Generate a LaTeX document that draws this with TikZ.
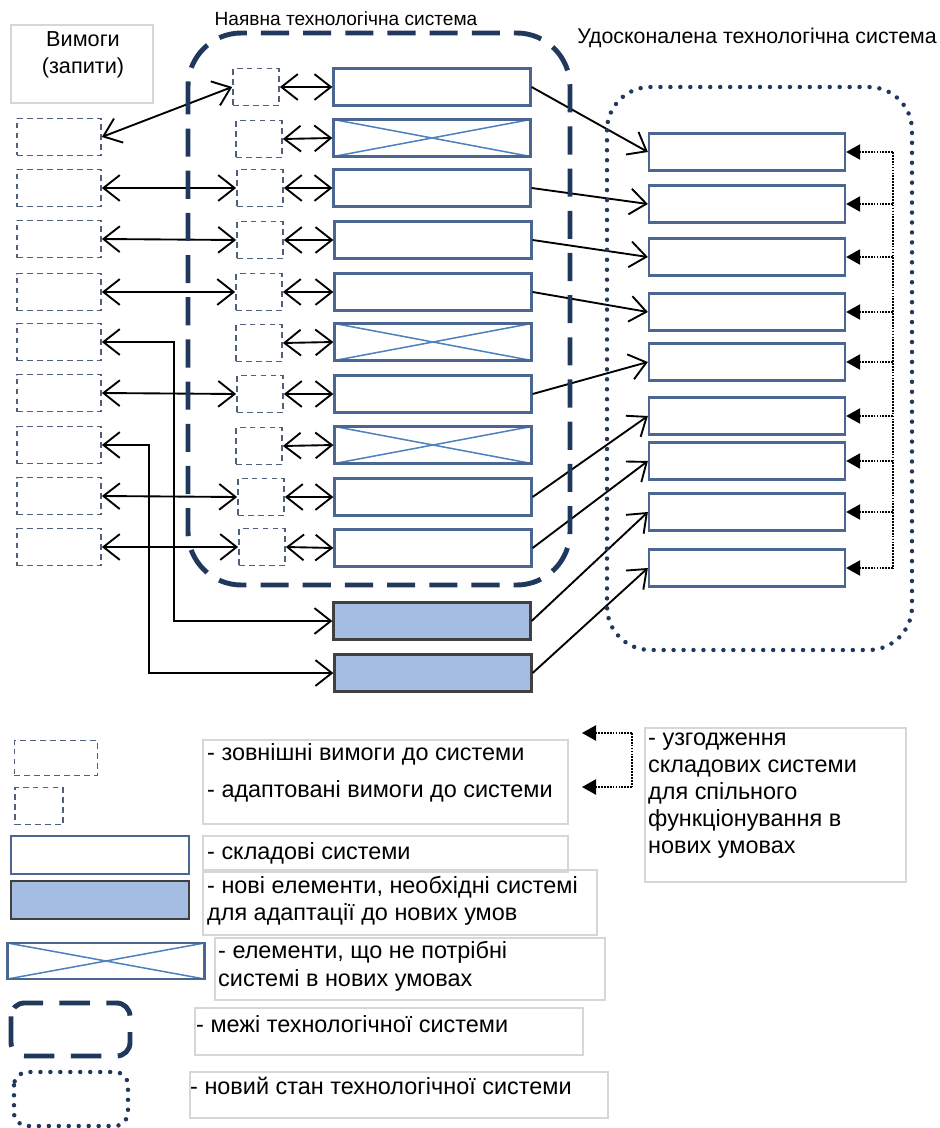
\documentclass[tikz,border=0pt]{standalone}
\usepackage{fontspec}
\setmainfont{Liberation Sans}
\usetikzlibrary{arrows.meta}

\definecolor{framecol}{RGB}{31,56,92}
\definecolor{boxcol}{RGB}{74,102,145}
\definecolor{crosscol}{RGB}{79,129,189}
\definecolor{reqcol}{RGB}{80,96,122}
\definecolor{newfill}{RGB}{165,189,226}
\definecolor{legcol}{RGB}{215,215,215}

\tikzset{
  req/.style={draw=reqcol, line width=1.5pt, dash pattern=on 5pt off 3.5pt,
    minimum width=2.52cm, minimum height=1.11cm, inner sep=0pt},
  adapt/.style={req, minimum width=1.38cm},
  comp/.style={draw=boxcol, line width=1.9pt, minimum width=5.91cm,
    minimum height=1.11cm, inner sep=0pt},
  crossed/.style={comp, path picture={
    \draw[crosscol, line width=1.3pt]
      (path picture bounding box.north west) -- (path picture bounding box.south east)
      (path picture bounding box.south west) -- (path picture bounding box.north east);}},
  newel/.style={comp, draw=black!75, fill=newfill},
  tgt/.style={comp, minimum width=5.88cm},
  link/.style={line width=1.6pt, -{Straight Barb[length=14pt,width=22pt]}},
  dlink/.style={line width=1.6pt,
    {Straight Barb[length=14pt,width=22pt]}-{Straight Barb[length=14pt,width=22pt]}},
  sync/.style={densely dotted, line width=1.5pt},
  syncarr/.style={sync, -{Triangle[length=12pt,width=13pt]}},
  oldsys/.style={draw=framecol, line width=4.2pt, dash pattern=on 24pt off 12pt,
    rounded corners=1.6cm},
  newsys/.style={draw=framecol, line width=3.8pt, dash pattern=on 0pt off 8.5pt,
    line cap=round, rounded corners=1.3cm},
  legbox/.style={draw=legcol, line width=1pt},
  legtxt/.style={anchor=west, inner sep=0pt, font=\fontsize{20pt}{23pt}\selectfont},
}

\begin{document}
\begin{tikzpicture}[x=0.03cm, y=-0.03cm, font=\fontsize{16.3pt}{23pt}\selectfont]
    \useasboundingbox (0,0) rectangle (939,1128);

    % headings
    \draw[legbox] (11,25) rectangle (153,103);
    \node[align=center, font=\fontsize{18.5pt}{23pt}\selectfont] (reqhdr) at (83,55) {Вимоги\\(запити)};
    \node (oldhdr) at (346,19) {Наявна технологічна система};
    \node[font=\fontsize{18.2pt}{23pt}\selectfont] (newhdr) at (757,38) {Удосконалена технологічна система};

    % external requirements
    \node[req] (r1) at (59,137) {};
    \node[req] (r2) at (59,188) {};
    \node[req] (r3) at (59,239) {};
    \node[req] (r4) at (59,292) {};
    \node[req] (r5) at (59,342) {};
    \node[req] (r6) at (59,393) {};
    \node[req] (r7) at (59,445) {};
    \node[req] (r8) at (59,496) {};
    \node[req] (r9) at (59,547) {};

    % adapted requirements
    \node[adapt] (a0) at (256,87) {};
    \node[adapt] (a1) at (259,139) {};
    \node[adapt] (a2) at (260,188) {};
    \node[adapt] (a3) at (260,240) {};
    \node[adapt] (a4) at (259,292) {};
    \node[adapt] (a5) at (259,343) {};
    \node[adapt] (a6) at (260,394) {};
    \node[adapt] (a7) at (259,446) {};
    \node[adapt] (a8) at (261,497) {};
    \node[adapt] (a9) at (262,547) {};

    % components of the existing system
    \node[comp] (c0) at (432,87) {};
    \node[crossed] (c1) at (432,138) {};
    \node[comp] (c2) at (432,188) {};
    \node[comp] (c3) at (433,240) {};
    \node[comp] (c4) at (433,292) {};
    \node[crossed] (c5) at (433,342) {};
    \node[comp] (c6) at (433,394) {};
    \node[crossed] (c7) at (433,445) {};
    \node[comp] (c8) at (433,497) {};
    \node[comp] (c9) at (433,548) {};
    \node[newel] (n1) at (432,621) {};
    \node[newel] (n2) at (433,673) {};

    % components of the improved system
    \node[tgt] (t1) at (747,152) {};
    \node[tgt] (t2) at (747,204) {};
    \node[tgt] (t3) at (747,257) {};
    \node[tgt] (t4) at (747,312) {};
    \node[tgt] (t5) at (747,362) {};
    \node[tgt] (t6) at (747,416) {};
    \node[tgt] (t7) at (747,461) {};
    \node[tgt] (t8) at (747,512) {};
    \node[tgt] (t9) at (747,568) {};

    % requirements -> adapted requirements
    \draw[dlink] (r1.east) -- (a0.west);
    \draw[dlink] (r2.east) -- (a2.west);
    \draw[dlink] (r3.east) -- (a3.west);
    \draw[dlink] (r4.east) -- (a4.west);
    \draw[dlink] (r6.east) -- (a6.west);
    \draw[dlink] (r8.east) -- (a8.west);
    \draw[dlink] (r9.east) -- (a9.west);
    \draw[dlink] (r5.east) -- ++(72,0) |- (n1.west);
    \draw[dlink] (r7.east) -- ++(47,0) |- (n2.west);

    % adapted requirements <-> components
    \draw[dlink] (a0.east) -- (c0.west);
    \draw[dlink] (a1.east) -- (c1.west);
    \draw[dlink] (a2.east) -- (c2.west);
    \draw[dlink] (a3.east) -- (c3.west);
    \draw[dlink] (a4.east) -- (c4.west);
    \draw[dlink] (a5.east) -- (c5.west);
    \draw[dlink] (a6.east) -- (c6.west);
    \draw[dlink] (a7.east) -- (c7.west);
    \draw[dlink] (a8.east) -- (c8.west);
    \draw[dlink] (a9.east) -- (c9.west);

    % old components -> new components
    \draw[link] (c0.east) -- (t1.west);
    \draw[link] (c2.east) -- (t2.west);
    \draw[link] (c3.east) -- (t3.west);
    \draw[link] (c4.east) -- (t4.west);
    \draw[link] (c6.east) -- (t5.west);
    \draw[link] (c8.east) -- (t6.west);
    \draw[link] (c9.east) -- (t7.west);
    \draw[link] (n1.east) -- (t8.west);
    \draw[link] (n2.east) -- (t9.west);

    % coordination of components
    \coordinate (syncx) at (893,0);
    \draw[sync] (t1.east -| syncx) -- (t9.east -| syncx);
    \draw[syncarr] (t1.east -| syncx) -- (t1.east);
    \draw[syncarr] (t2.east -| syncx) -- (t2.east);
    \draw[syncarr] (t3.east -| syncx) -- (t3.east);
    \draw[syncarr] (t4.east -| syncx) -- (t4.east);
    \draw[syncarr] (t5.east -| syncx) -- (t5.east);
    \draw[syncarr] (t6.east -| syncx) -- (t6.east);
    \draw[syncarr] (t7.east -| syncx) -- (t7.east);
    \draw[syncarr] (t8.east -| syncx) -- (t8.east);
    \draw[syncarr] (t9.east -| syncx) -- (t9.east);

    % system borders
    \draw[oldsys] (188,33) rectangle (570,585);
    \draw[newsys] (607,87) rectangle (912,650);

    % legend
    \node[req, minimum width=2.49cm, minimum height=1.05cm] (lreq) at (56,758) {};
    \node[adapt, minimum width=1.44cm] (ladapt) at (39,806) {};
    \node[comp, minimum width=5.34cm, minimum height=1.14cm] (lcomp) at (100,855) {};
    \node[newel, minimum width=5.34cm, minimum height=1.14cm] (lnew) at (100,900) {};
    \node[crossed, minimum width=5.91cm, minimum height=1.08cm] (lcross) at (106,961) {};
    \draw[oldsys, rounded corners=0.4cm, dash pattern=on 26pt off 14pt] (11,1003) rectangle (130,1056);
    \draw[newsys, rounded corners=0.4cm] (14,1072) rectangle (128,1126);

    \coordinate (lsync1) at (632,733);
    \coordinate (lsync2) at (632,787);
    \coordinate (ltip1) at (582,733);
    \coordinate (ltip2) at (582,787);
    \draw[sync] (lsync1) -- (lsync2);
    \draw[syncarr] (lsync1) -- (ltip1);
    \draw[syncarr] (lsync2) -- (ltip2);

    \draw[legbox] (203,740) rectangle (568,824);
    \node[legtxt] (ltxt1) at (207,754) {- зовнішні вимоги до системи};
    \node[legtxt] (ltxt2) at (207,791) {- адаптовані вимоги до системи};
    \draw[legbox] (203,836) rectangle (568,872);
    \node[legtxt] (ltxt3) at (207,853) {- складові системи};
    \draw[legbox] (203,870) rectangle (597,935);
    \node[legtxt] (ltxt4) at (207,887) {- нові елементи, необхідні системі};
    \node[legtxt] (ltxt5) at (207,914) {для адаптації до нових умов};
    \draw[legbox] (215,938) rectangle (605,1000);
    \node[legtxt] (ltxt6) at (218,952) {- елементи, що не потрібні};
    \node[legtxt] (ltxt7) at (218,980) {системі в нових умовах};
    \draw[legbox] (195,1008) rectangle (583,1055);
    \node[legtxt] (ltxt8) at (196,1024) {- межі технологічної системи};
    \draw[legbox] (190,1072) rectangle (608,1118);
    \node[legtxt] (ltxt9) at (190,1086) {- новий стан технологічної системи};
    \draw[legbox] (645,728) rectangle (906,882);
    \node[legtxt, anchor=north west, align=left] (ltxt10) at (648,733)
      {- узгодження\\складових системи\\для спільного\\функціонування в\\нових умовах};
\end{tikzpicture}
\end{document}
